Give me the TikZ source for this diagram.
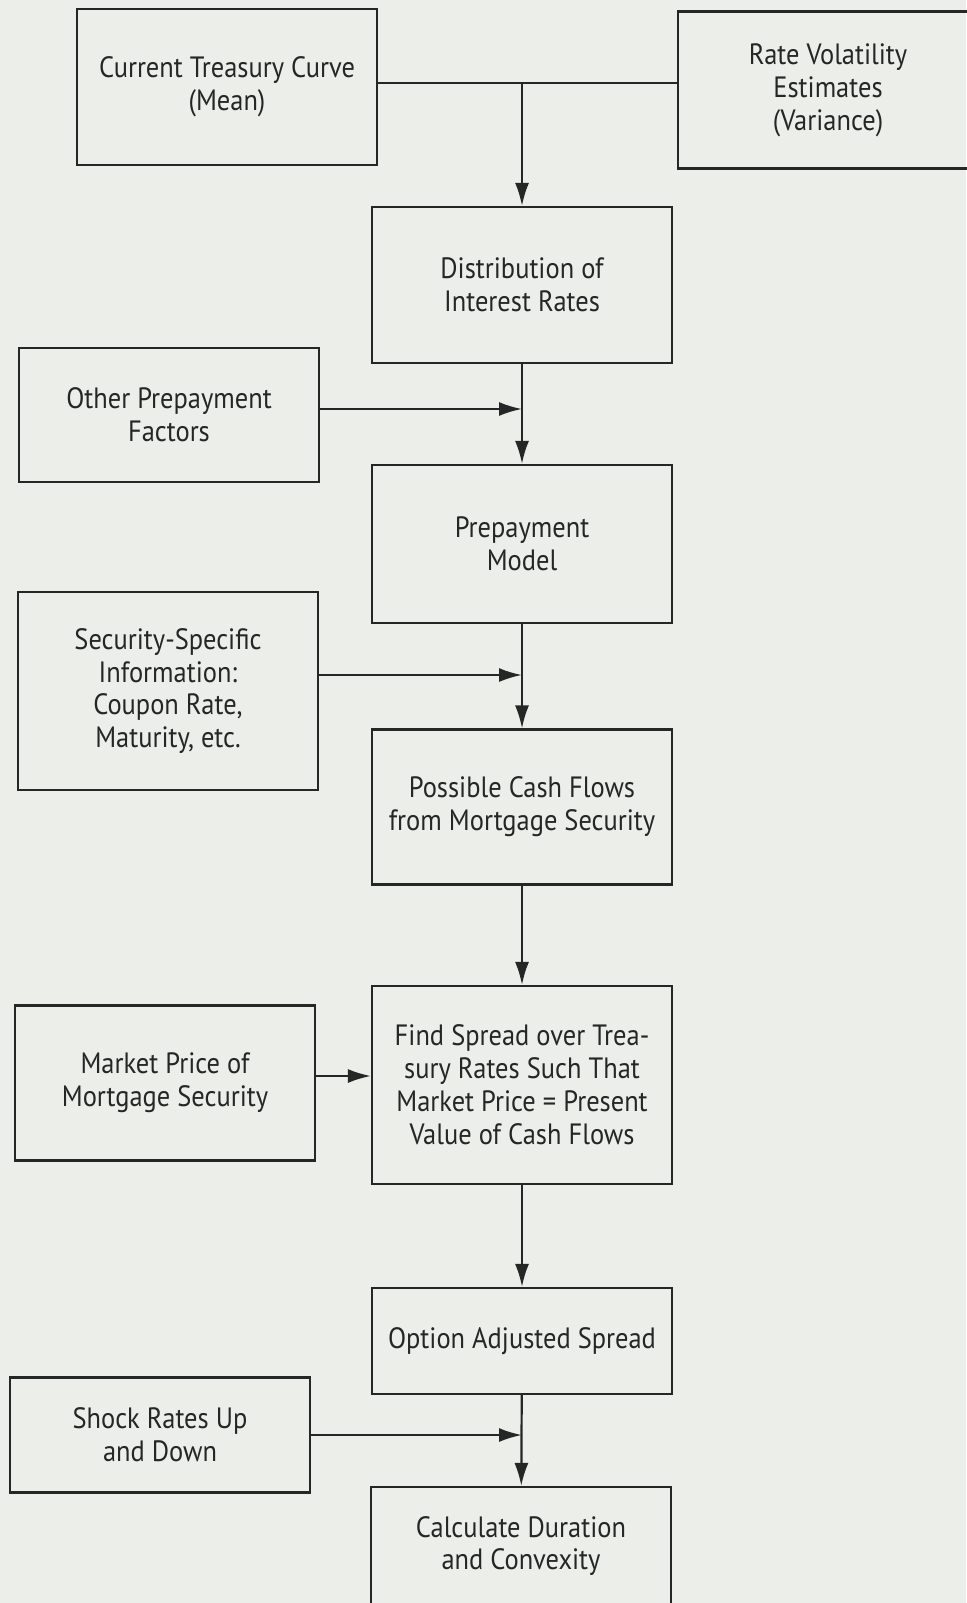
\documentclass[tikz,border=0pt]{standalone}
\usepackage{fontspec}
\setmainfont{PT Sans}[FakeStretch=0.9]
\usetikzlibrary{arrows.meta}
\definecolor{paper}{RGB}{236,238,233}
\definecolor{ink}{RGB}{38,38,38}

\begin{document}
\begin{tikzpicture}[x=1bp, y=-1bp, thick]
        \useasboundingbox[fill=paper] (0,0) rectangle (966,1603);
        \tikzstyle{b}=[draw=ink, line width=2.2bp, align=center, minimum width=300bp, inner sep=0pt, text=ink, font=\fontsize{29.5}{33}\selectfont]
        \node[b, minimum height=156bp] (TC) at (227,87) {Current Treasury Curve\\(Mean)};
        \node[b, minimum height=157bp] (RV) at (828,90) {Rate Volatility\\Estimates\\(Variance)};
        \node[b, minimum height=156bp] (DI) at (522,285) {Distribution of\\Interest Rates};
        \node[b, minimum height=134bp] (OP) at (169,415) {Other Prepayment\\Factors};
        \node[b, minimum height=158bp] (PM) at (522,544) {Prepayment\\Model};
        \node[b, minimum height=198bp] (SS) at (168,691) {Security-Specific\\Information:\\Coupon Rate,\\Maturity, etc.};
        \node[b, minimum height=155bp] (CF) at (522,807) {Possible Cash Flows\\from Mortgage Security};
        \node[b, minimum height=155bp] (MP) at (165,1083) {Market Price of\\Mortgage Security};
        \node[b, minimum height=198bp] (FS) at (522,1085) {Find Spread over Trea-\\sury Rates Such That\\Market Price = Present\\Value of Cash Flows};
        \node[b, minimum height=106bp] (OA) at (522,1341) {Option Adjusted Spread};
        \node[b, minimum height=115bp] (SR) at (160,1435) {Shock Rates Up\\and Down};
        \node[b, minimum height=118bp] (CD) at (521,1546) {Calculate Duration\\and Convexity};

        \coordinate (J) at (522,83);
        \coordinate (A1) at (522,409);
        \coordinate (A2) at (522,675);
        \coordinate (A3) at (522,1076);
        \coordinate (A4) at (522,1435);

        \tikzstyle{late}=[-{Latex[length=23bp,width=14bp]}, draw=ink, line width=2.2bp]
        \draw[draw=ink, line width=2.2bp] (TC.east |- J)--(RV.west |- J);
        \draw[late] (J)--(DI);
        \draw[late] (DI)--(PM);
        \draw[late] (OP.east |- A1)--(A1);
        \draw[late] (PM)--(CF);
        \draw[late] (SS.east |- A2)--(A2);
        \draw[late] (CF)--(FS);
        \draw[late] (MP.east |- A3)--(FS.west |- A3);
        \draw[late] (FS)--(OA);
        \draw[late] (OA)--(CD);
        \draw[late] (SR.east |- A4)--(A4);
    \end{tikzpicture}
\end{document}
